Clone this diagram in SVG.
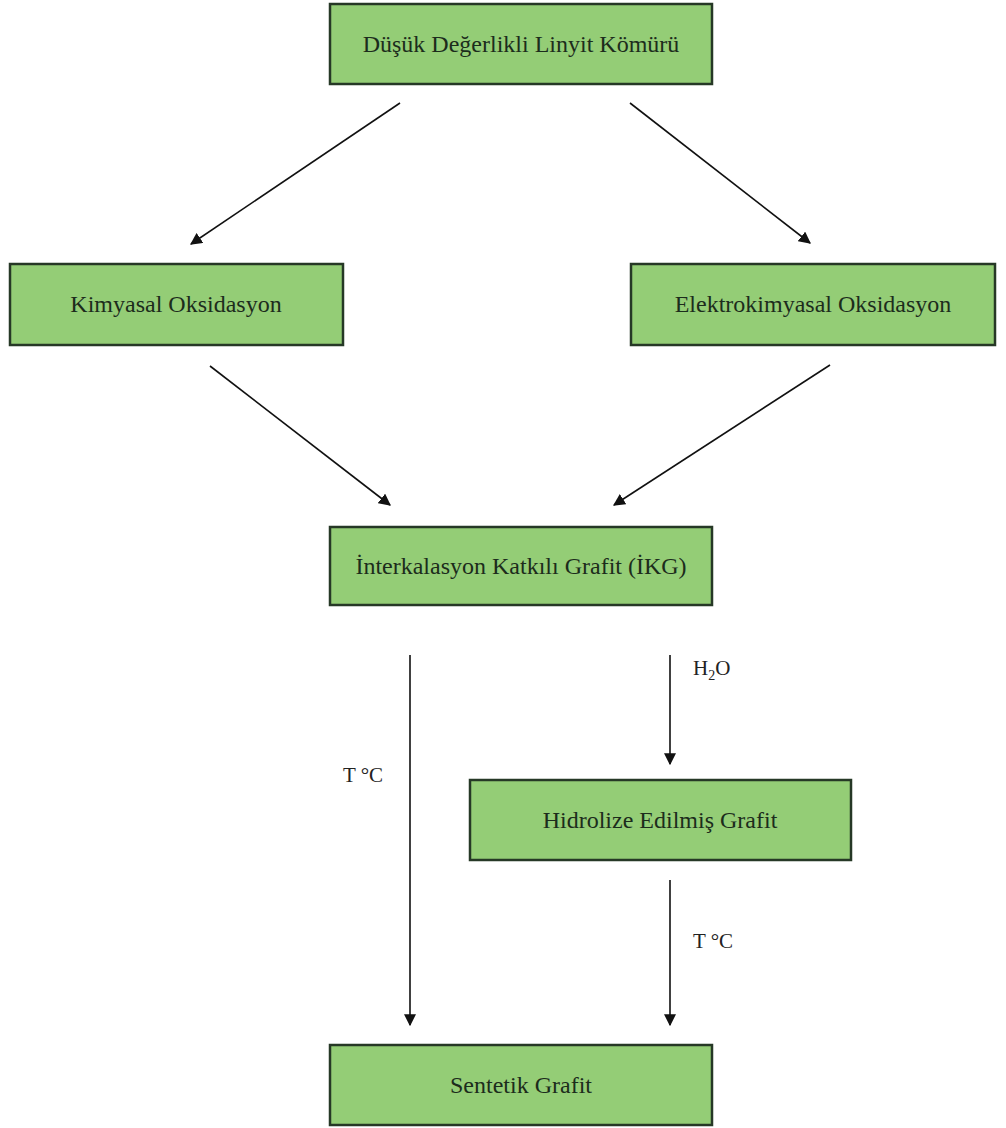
<svg xmlns="http://www.w3.org/2000/svg" width="1006" height="1128" viewBox="0 0 1006 1128">
  <style>
    .box { fill: #94cd76; stroke: #263826; stroke-width: 2.5; }
    .lbl { font-family: "Liberation Serif", "Times New Roman", serif; font-size: 24px; fill: #1c2c1c; text-anchor: middle; }
    .note { font-family: "Liberation Serif", "Times New Roman", serif; font-size: 21px; fill: #222; }
    .edge { stroke: #111; stroke-width: 1.6; fill: none; marker-end: url(#arrow); }
  </style>
  <defs>
    <marker id="arrow" viewBox="0 0 10 10" refX="9" refY="5" markerWidth="12" markerHeight="12" markerUnits="userSpaceOnUse" orient="auto">
      <path d="M0,0 L10,5 L0,10 z" fill="#111"/>
    </marker>
  </defs>

  <rect width="1006" height="1128" fill="#fff"/>

  <g id="connectors">
    <line class="edge" x1="400" y1="103" x2="191" y2="244"/>
    <line class="edge" x1="630" y1="103" x2="810" y2="243"/>
    <line class="edge" x1="210" y1="366" x2="390" y2="505"/>
    <line class="edge" x1="830" y1="365" x2="614" y2="505"/>
    <line class="edge" x1="410" y1="655" x2="410" y2="1025"/>
    <line class="edge" x1="670" y1="655" x2="670" y2="764"/>
    <line class="edge" x1="670" y1="880" x2="670" y2="1025"/>
    <text class="note" x="343" y="782">T °C</text>
    <text class="note" x="693" y="675">H<tspan font-size="14" dy="5">2</tspan><tspan dy="-5">O</tspan></text>
    <text class="note" x="693" y="948">T °C</text>
  </g>

  <g id="node-linyit">
    <rect class="box" x="330" y="4" width="382" height="80"/>
    <text class="lbl" x="521" y="52">Düşük Değerlikli Linyit Kömürü</text>
  </g>
  <g id="node-kimyasal">
    <rect class="box" x="10" y="264" width="333" height="81"/>
    <text class="lbl" x="176" y="312">Kimyasal Oksidasyon</text>
  </g>
  <g id="node-elektrokimyasal">
    <rect class="box" x="631" y="264" width="364" height="81"/>
    <text class="lbl" x="813" y="312">Elektrokimyasal Oksidasyon</text>
  </g>
  <g id="node-ikg">
    <rect class="box" x="330" y="527" width="382" height="78"/>
    <text class="lbl" x="521" y="574">İnterkalasyon Katkılı Grafit (İKG)</text>
  </g>
  <g id="node-hidrolize">
    <rect class="box" x="470" y="780" width="381" height="80"/>
    <text class="lbl" x="660" y="828">Hidrolize Edilmiş Grafit</text>
  </g>
  <g id="node-sentetik">
    <rect class="box" x="330" y="1045" width="382" height="80"/>
    <text class="lbl" x="521" y="1093">Sentetik Grafit</text>
  </g>
</svg>
